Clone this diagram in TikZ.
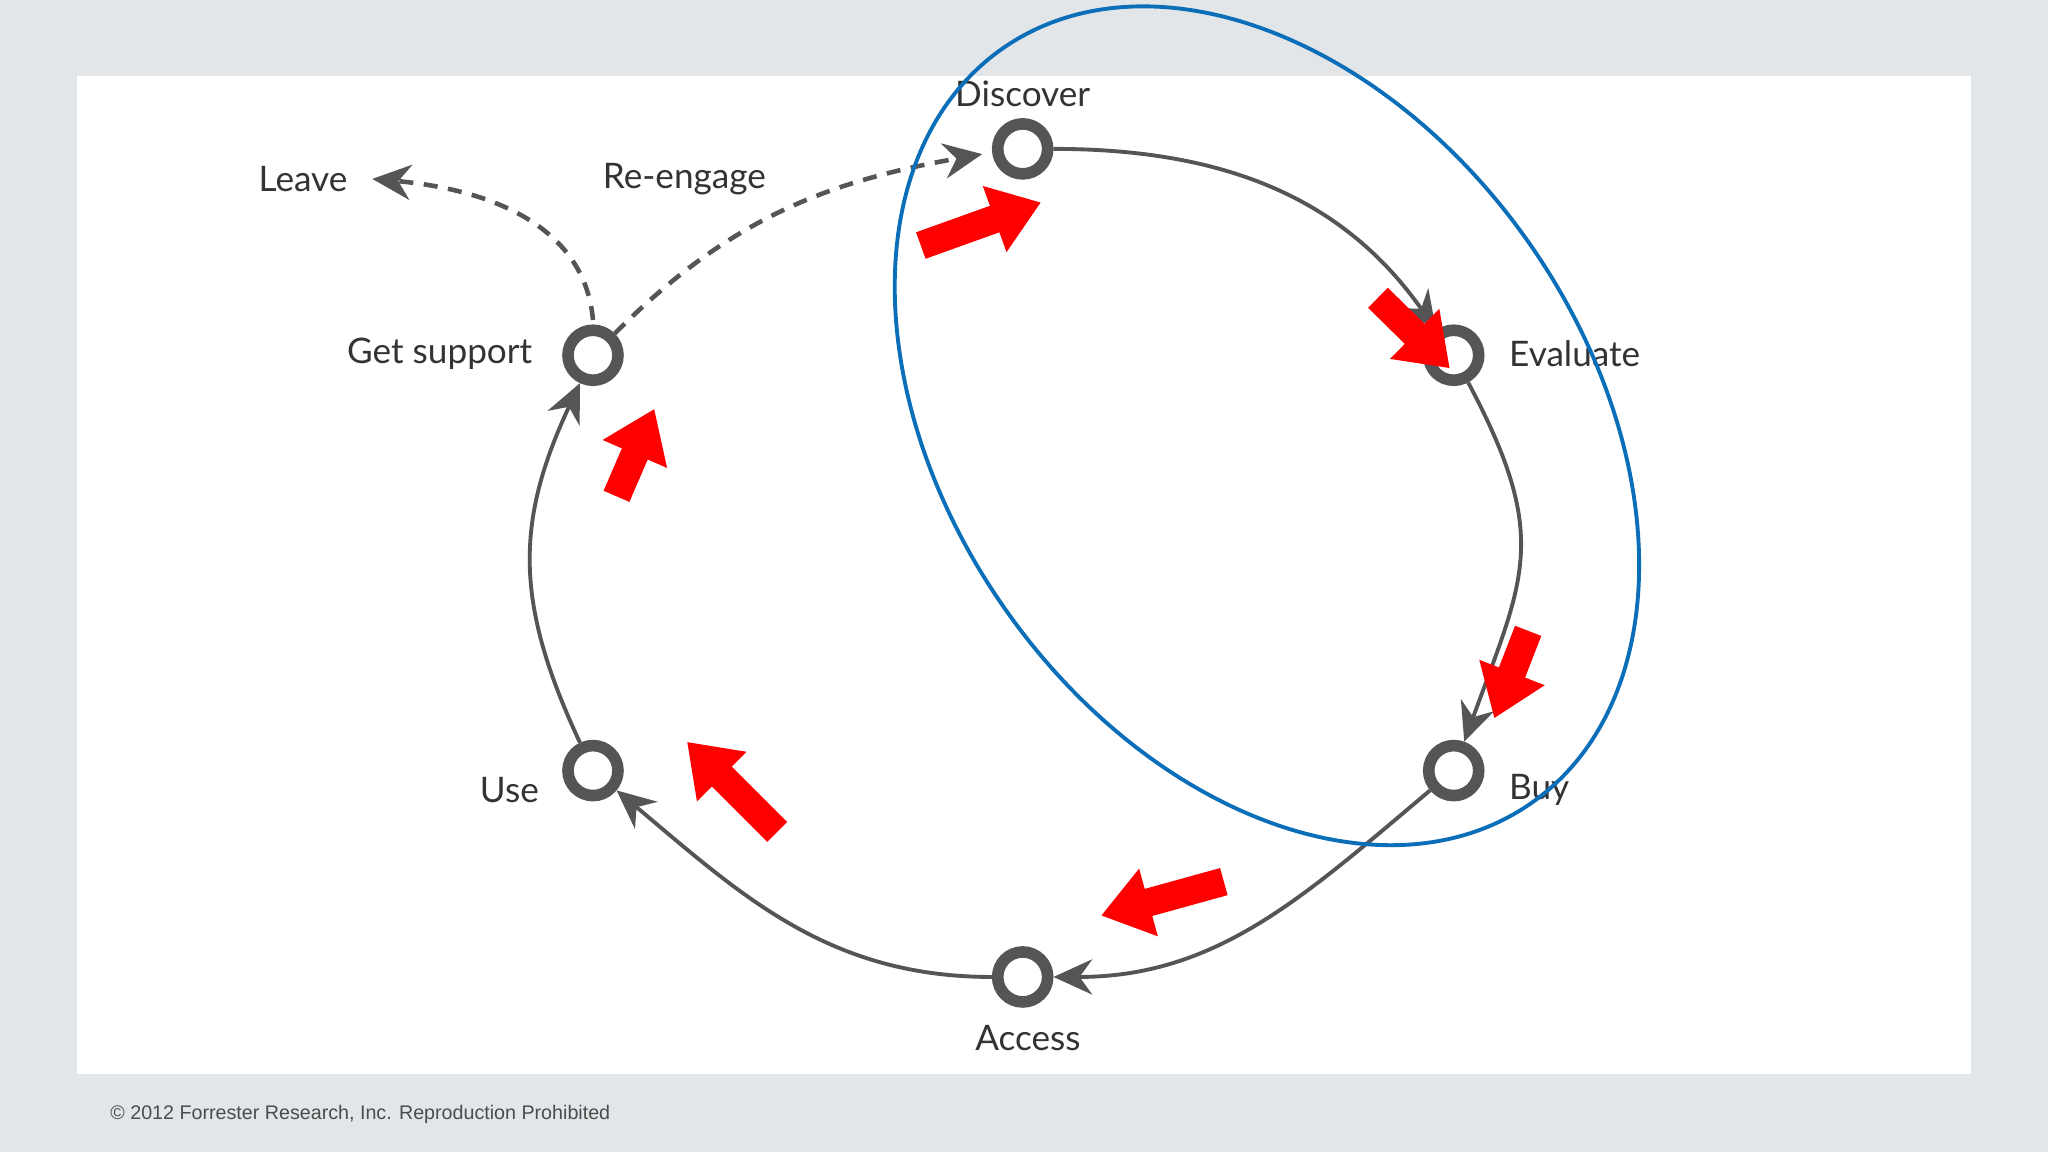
\documentclass[tikz,border=0pt]{standalone}
\usepackage{fontspec}
\setmainfont{Lato}
\usetikzlibrary{arrows.meta}
\definecolor{bgg}{HTML}{E2E6E8}
\definecolor{dg}{HTML}{555555}
\definecolor{bl}{HTML}{0B6EB8}
\tikzset{
  ring/.style={circle,draw=dg,line width=3.3pt,fill=white,minimum size=0.5cm,inner sep=0pt},
  lbl/.style={font=\fontsize{10}{12}\selectfont,text=black!80},
  cyc/.style={draw=dg,line width=1.1pt,-{Stealth[length=11pt,width=10pt]}},
  dsh/.style={draw=dg,line width=1.3pt,dash pattern=on 4pt off 3pt,-{Stealth[length=11pt,width=10pt]}},
  redarr/.style={draw=red,line width=8pt,-{Triangle[length=14pt 0,width=19pt 0]}}
}
\begin{document}
\begin{tikzpicture}[x=0.013061cm,y=0.013061cm]
\fill[bgg] (0,0) rectangle (1568,882);
\fill[white] (59,60) rectangle (1509,824);
\path[use as bounding box] (0,0) rectangle (1568,882);
% nodes
\node[ring] (dis) at (783,768) {};
\node[ring] (eva) at (1113,610) {};
\node[ring] (buy) at (1113,292) {};
\node[ring] (acc) at (783,134) {};
\node[ring] (use) at (454,292) {};
\node[ring] (gs) at (454,610) {};
\coordinate (gst) at (454,637);
\coordinate (leave) at (285,745);
\coordinate (reng) at (752,764);
% labels
\node[lbl] (tdis) at (783,810) {Discover};
\node[lbl,anchor=west] (teva) at (1146,611) {Evaluate};
\node[lbl,anchor=west] (tbuy) at (1146,277) {Buy};
\node[lbl] (tacc) at (787,87) {Access};
\node[lbl,anchor=east] (tuse) at (422,277) {Use};
\node[lbl,anchor=east] (tgs) at (417,611) {Get support};
\node[lbl] (tlv) at (232,745) {Leave};
\node[lbl] (tre) at (524,745) {Re-engage};
\node[anchor=west,font=\fontspec{Liberation Sans}\fontsize{5.6}{7}\selectfont,text=black!70] (cp) at (75,29) {© 2012 Forrester Research, Inc. Reproduction Prohibited};
% cycle
\draw[cyc] (dis) to[out=0,in=125] (eva);
\draw[cyc] (eva) to[out=-62,in=70,looseness=1.25] (buy);
\draw[cyc] (buy) to[out=-140,in=0] (acc);
\draw[cyc] (acc) to[out=180,in=-40] (use);
\draw[cyc] (use) to[out=115,in=-115,looseness=1.1] (gs);
% dashed
\draw[dsh] (gst) to[out=95,in=-5] (leave);
\draw[dsh] (gs.north east) to[out=45,in=190] (reng);
% blue ellipse
\draw[bl,line width=1.1pt,shift={(970,556)},rotate=-54.9] (0,0) ellipse [x radius=4.607cm,y radius=3.196cm];
% red arrows
\draw[redarr] (705,694) -- (797,727);
\draw[redarr] (1055,654) -- (1110,600);
\draw[redarr] (1170,399) -- (1144,332);
\draw[redarr] (937,207) -- (843,181);
\draw[redarr] (595,245) -- (526,314);
\draw[redarr] (472,502) -- (501,569);
\end{tikzpicture}
\end{document}
